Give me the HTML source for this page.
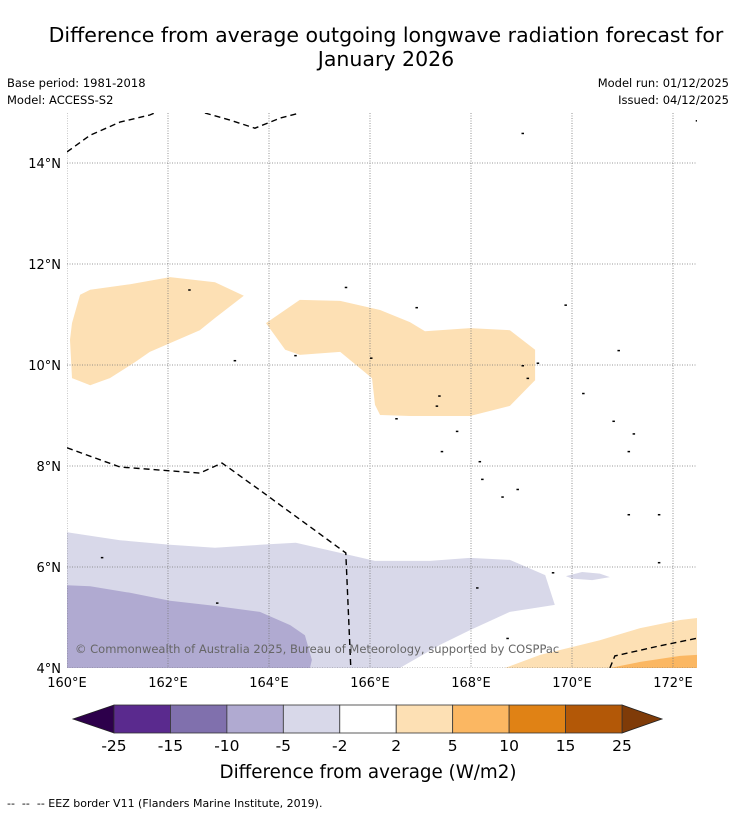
<!DOCTYPE html>
<html><head><meta charset="utf-8"><style>
body{margin:0;background:#fff;font-family:"DejaVu Sans","Liberation Sans",sans-serif;}
#wrap{position:relative;width:736px;height:816px;overflow:hidden;}
.t{position:absolute;white-space:nowrap;color:#000;}
</style></head><body>
<div id="wrap">
<div class="t" style="left:0;width:772px;top:23px;text-align:center;font-size:20.5px;line-height:24px;">Difference from average outgoing longwave radiation forecast for<br>January 2026</div>
<div class="t" style="left:7px;top:76px;font-size:11.5px;">Base period: 1981-2018</div>
<div class="t" style="left:7px;top:93px;font-size:11.5px;">Model: ACCESS-S2</div>
<div class="t" style="right:7px;top:76px;font-size:11.5px;">Model run: 01/12/2025</div>
<div class="t" style="right:7px;top:93px;font-size:11.5px;">Issued: 04/12/2025</div>
<svg id="svg" width="736" height="816" style="position:absolute;left:0;top:0"></svg>
<div class="t" style="left:7px;top:797px;font-size:11px;">-- &nbsp;-- &nbsp;-- EEZ border V11 (Flanders Marine Institute, 2019).</div>
</div>
<script>
const lonTicks=[160,162,164,166,168,170,172];
const latTicks=[4,6,8,10,12,14];
const levels=[-25,-15,-10,-5,-2,2,5,10,15,25];
const levelColors=["#5a2a8e","#8070ad","#b0aad1","#d8d8e9","#ffffff","#fde0b4","#fbb762","#e08215","#b35807"];
const extendLow="#2d004b", extendHigh="#7f3b08";
const blobA=[[160.10,10.83],[160.26,11.39],[160.46,11.49],[161.25,11.60],[162.04,11.74],[162.93,11.64],[163.50,11.37],[162.93,10.93],[162.63,10.69],[161.64,10.26],[161.35,10.06],[160.85,9.74],[160.46,9.60],[160.10,9.74],[160.06,10.50]];
const blobB=[[163.94,10.83],[164.61,11.29],[165.41,11.27],[166.20,11.09],[166.79,10.85],[167.09,10.67],[167.98,10.73],[168.77,10.69],[169.27,10.30],[169.27,9.70],[168.77,9.19],[167.98,8.99],[166.79,8.99],[166.20,9.01],[166.10,9.21],[166.04,9.74],[165.41,10.26],[164.61,10.20],[164.32,10.30]];
const lavLight=[[160,6.69],[161.05,6.53],[162.04,6.44],[162.93,6.38],[163.82,6.44],[164.53,6.48],[165.41,6.28],[166.10,6.12],[167.19,6.12],[167.98,6.18],[168.77,6.14],[169.47,5.84],[169.66,5.25],[168.77,5.11],[167.98,4.75],[167.39,4.46],[166.59,4],[160,4]];
const lavSmall=[[169.88,5.82],[170.2,5.90],[170.55,5.87],[170.75,5.80],[170.4,5.74],[170.0,5.77]];
const lavMed=[[160,5.64],[160.46,5.62],[161.25,5.49],[162.04,5.33],[162.93,5.23],[163.82,5.11],[164.42,4.85],[164.71,4.65],[164.85,4.16],[164.81,4],[160,4]];
const orLight=[[168.67,4],[169.37,4.26],[170.55,4.55],[171.35,4.79],[172.14,4.95],[172.48,4.99],[172.48,4]];
const orMed=[[170.75,4],[171.35,4.12],[172.14,4.24],[172.48,4.26],[172.48,4]];
const eez1=[[160,14.22],[160.46,14.55],[161.05,14.81],[161.64,14.95],[161.78,15.01]];
const eez2=[[162.73,14.99],[163.23,14.85],[163.72,14.69],[164.22,14.89],[164.61,14.99]];
const eez3=[[160,8.36],[161.05,7.98],[162.63,7.86],[163.07,8.06],[163.82,7.52],[165.52,6.28],[165.62,4]];
const eez4=[[170.75,4],[170.85,4.24],[171.74,4.44],[172.48,4.59]];
const islands=[[160.67,6.2],[162.4,11.5],[163.3,10.1],[164.5,10.2],[165.5,11.55],[166.0,10.15],[166.9,11.15],[166.5,8.95],[167.3,9.2],[167.35,9.4],[167.7,8.7],[167.4,8.3],[168.15,8.1],[168.2,7.75],[168.6,7.4],[168.9,7.55],[169.0,10.0],[169.3,10.05],[169.1,9.75],[170.2,9.45],[170.8,8.9],[171.2,8.65],[171.1,8.3],[169.85,11.2],[170.9,10.3],[171.1,7.05],[171.7,7.05],[171.7,6.1],[169.0,14.6],[172.45,14.85],[168.1,5.6],[169.6,5.9],[168.7,4.6],[162.95,5.3]];
const svg=document.getElementById('svg');const NS="http://www.w3.org/2000/svg";
const X0=67,Y0=668,K=50.5;
const FF='DejaVu Sans, Liberation Sans, sans-serif';
function xs(lon){return X0+(lon-160)*K;}
function ys(lat){return Y0-(lat-4)*K;}
function mk(t,a,p){const e=document.createElementNS(NS,t);for(const k in a)e.setAttribute(k,a[k]);(p||svg).appendChild(e);return e;}
function pts(a){return a.map(p=>xs(p[0]).toFixed(1)+","+ys(p[1]).toFixed(1)).join(" ");}
const defs=mk('defs',{});const cp=mk('clipPath',{id:'c'},defs);mk('rect',{x:67,y:113,width:630,height:555},cp);
const g=mk('g',{'clip-path':'url(#c)'});


function poly(a,fill,name){const e=mk('polygon',{points:pts(a),fill:fill},g);

}
poly(lavLight,levelColors[3],'region-minus5-to-minus2');
poly(lavSmall,levelColors[3],'region-small-minus5');
poly(lavMed,levelColors[2],'region-minus10-to-minus5');
poly(blobA,levelColors[5],'region-2-to-5-west');
poly(blobB,levelColors[5],'region-2-to-5-central');
poly(orLight,levelColors[5],'region-2-to-5-southeast');
poly(orMed,levelColors[6],'region-5-to-10-southeast');
lonTicks.forEach(l=>{const e=mk('line',{x1:xs(l),x2:xs(l),y1:113,y2:668,stroke:'#777','stroke-width':0.8,'stroke-dasharray':'1,1.5'},g);

});
latTicks.forEach(l=>{const e=mk('line',{x1:67,x2:697,y1:ys(l),y2:ys(l),stroke:'#777','stroke-width':0.8,'stroke-dasharray':'1,1.5'},g);

});
[eez1,eez2,eez3,eez4].forEach(a=>{const e=mk('polyline',{points:pts(a),fill:'none',stroke:'#000','stroke-width':1.4,'stroke-dasharray':'6,4'},g);

});
islands.forEach(p=>{const e=mk('rect',{x:xs(p[0]),y:ys(p[1]),width:2.5,height:1.5,fill:'#000'},g);

});
const cr=mk('text',{x:75,y:653,'font-size':11.5,fill:'#666','font-family':FF});cr.textContent='© Commonwealth of Australia 2025, Bureau of Meteorology, supported by COSPPac';


lonTicks.forEach(l=>{const e=mk('text',{x:xs(l),y:687,'font-size':13,'text-anchor':'middle','font-family':FF});e.textContent=l+'°E';

});
latTicks.forEach(l=>{const e=mk('text',{x:61,y:ys(l)+5,'font-size':13,'text-anchor':'end','font-family':FF});e.textContent=l+'°N';

});
const CB0=114,CB1=622,CBy=705,CBh=28,n=levelColors.length,w=(CB1-CB0)/n;
const tl=mk('polygon',{points:`${CB0},${CBy} ${CB0},${CBy+CBh} 73,${CBy+CBh/2}`,fill:extendLow,stroke:'#222','stroke-width':0.8});


const tr=mk('polygon',{points:`${CB1},${CBy} ${CB1},${CBy+CBh} 662,${CBy+CBh/2}`,fill:extendHigh,stroke:'#222','stroke-width':0.8});


levelColors.forEach((c,i)=>{const e=mk('rect',{x:CB0+i*w,y:CBy,width:w,height:CBh,fill:c,stroke:'#333','stroke-width':0.8});

});
levels.forEach((v,i)=>{const e=mk('text',{x:CB0+i*w,y:751,'font-size':15.5,'text-anchor':'middle','font-family':FF});e.textContent=v;

});
const ct=mk('text',{x:368,y:778,'font-size':18.3,'text-anchor':'middle','font-family':FF});ct.textContent='Difference from average (W/m2)';


</script>
</body></html>
